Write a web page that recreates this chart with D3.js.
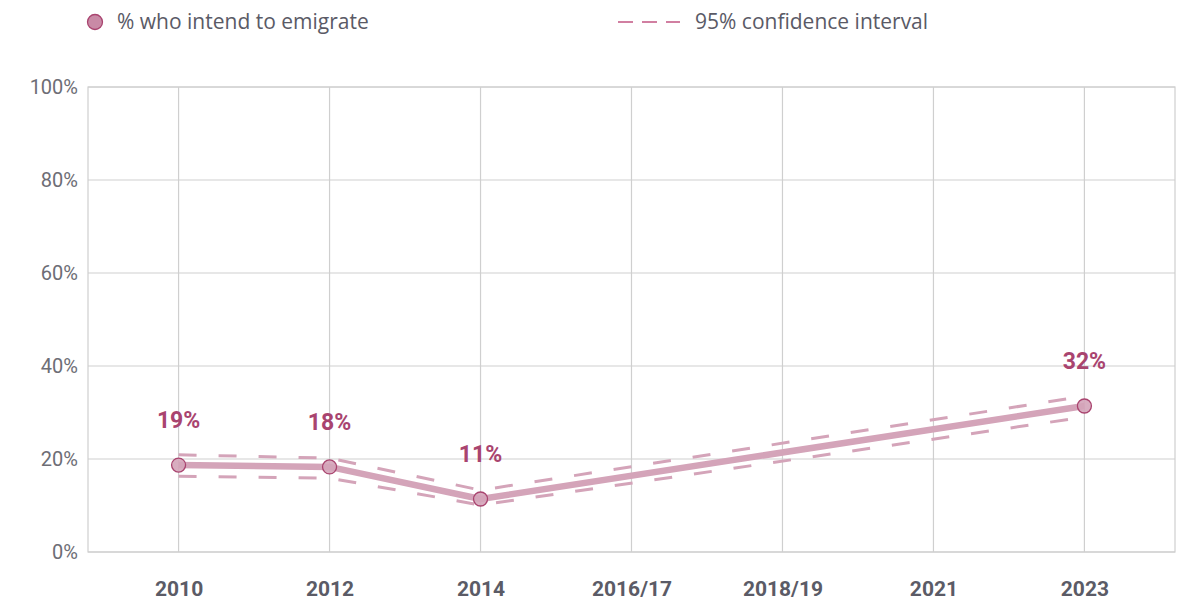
<!DOCTYPE html>
<html>
<head>
<meta charset="utf-8">
<script src="https://cdn.jsdelivr.net/npm/d3@7"></script>
<style>
  body { margin: 0; background: #fff; }
  svg { display: block; }
</style>
</head>
<body>
<div class="canvas"></div>
<script>
// data
const years = ['2010', '2012', '2014', '2016/17', '2018/19', '2021', '2023'];
const pointYears = ['2010', '2012', '2014', '2023'];
const intend = [18.7, 18.3, 11.4, 31.4];
const ciUpper = [20.9, 20.2, 13.3, 33.5];
const ciLower = [16.3, 15.9, 10.1, 29.0];
const labels = ['19%', '18%', '11%', '32%'];
const yTicks = [0, 20, 40, 60, 80, 100];

const dims = { width: 1199, height: 605, left: 88, right: 1175, top: 87, bottom: 552 };

const lineColor = '#d4a4b9';
const darkColor = '#a9446f';
const gridColor = '#cfcfcf';

const svg = d3.select('.canvas')
  .append('svg')
  .attr('width', dims.width)
  .attr('height', dims.height);

// scales
const x = d3.scalePoint().domain(years).range([dims.left, dims.right]).padding(0.6);
const y = d3.scaleLinear().domain([0, 100]).range([dims.bottom, dims.top]);

// grid
const grid = svg.append('g');
grid.selectAll('line.h')
  .data(yTicks)
  .join('line')
  .attr('x1', dims.left).attr('x2', dims.right)
  .attr('y1', d => y(d)).attr('y2', d => y(d))
  .attr('stroke', gridColor).attr('stroke-width', 1.2);
grid.selectAll('line.v')
  .data(years)
  .join('line')
  .attr('x1', d => x(d)).attr('x2', d => x(d))
  .attr('y1', dims.top).attr('y2', dims.bottom)
  .attr('stroke', gridColor).attr('stroke-width', 1.2);
grid.append('rect')
  .attr('x', dims.left).attr('y', dims.top)
  .attr('width', dims.right - dims.left).attr('height', dims.bottom - dims.top)
  .attr('fill', 'none').attr('stroke', gridColor).attr('stroke-width', 1.2);

// axes
const yAxis = d3.axisLeft(y).tickValues(yTicks).tickFormat(d => d + '%').tickSize(0).tickPadding(10);
const yAxisGroup = svg.append('g').attr('transform', `translate(${dims.left},0)`).call(yAxis);
yAxisGroup.select('path.domain').remove();
yAxisGroup.selectAll('text')
  .attr('font-family', 'Roboto').attr('font-size', 20).attr('fill', '#6d6d75');

const xAxis = d3.axisBottom(x).tickSize(0).tickPadding(29);
const xAxisGroup = svg.append('g').attr('transform', `translate(0,${dims.bottom})`).call(xAxis);
xAxisGroup.select('path.domain').remove();
xAxisGroup.selectAll('text')
  .attr('font-family', 'Roboto').attr('font-size', 21).attr('font-weight', 'bold').attr('fill', '#5b5b66');

// series
const pts = pointYears.map((k, i) => ({ key: k, v: intend[i], up: ciUpper[i], lo: ciLower[i], label: labels[i] }));

svg.append('path')
  .datum(pts)
  .attr('d', d3.line().x(d => x(d.key)).y(d => y(d.up)))
  .attr('fill', 'none').attr('stroke', lineColor).attr('stroke-width', 3)
  .attr('stroke-dasharray', '18,22');
svg.append('path')
  .datum(pts)
  .attr('d', d3.line().x(d => x(d.key)).y(d => y(d.lo)))
  .attr('fill', 'none').attr('stroke', lineColor).attr('stroke-width', 3)
  .attr('stroke-dasharray', '18,22');

svg.append('path')
  .datum(pts)
  .attr('d', d3.line().x(d => x(d.key)).y(d => y(d.v)))
  .attr('fill', 'none').attr('stroke', lineColor).attr('stroke-width', 6.5)
  .attr('stroke-linejoin', 'round');

svg.selectAll('circle.pt')
  .data(pts)
  .join('circle')
  .attr('cx', d => x(d.key)).attr('cy', d => y(d.v)).attr('r', 7)
  .attr('fill', lineColor).attr('fill-opacity', 0.9)
  .attr('stroke', darkColor).attr('stroke-width', 1.3);

svg.selectAll('text.lbl')
  .data(pts)
  .join('text')
  .attr('x', d => x(d.key)).attr('y', d => y(d.v) - 45)
  .attr('dy', '0.35em')
  .attr('text-anchor', 'middle')
  .attr('font-family', 'Roboto').attr('font-size', 23).attr('font-weight', 'bold')
  .attr('fill', darkColor)
  .text(d => d.label);

// legend
const legend = svg.append('g');
legend.append('circle')
  .attr('cx', 95).attr('cy', 22).attr('r', 7.5)
  .attr('fill', '#c98aa6').attr('stroke', darkColor).attr('stroke-width', 1.3);
legend.append('text')
  .attr('x', 117).attr('y', 22).attr('dy', '0.35em')
  .attr('font-family', 'Open Sans').attr('font-size', 21).attr('fill', '#5a5a66')
  .text('% who intend to emigrate');
legend.append('line')
  .attr('x1', 618).attr('x2', 680).attr('y1', 22).attr('y2', 22)
  .attr('stroke', '#c25583').attr('stroke-width', 1.5)
  .attr('stroke-dasharray', '15,9');
legend.append('text')
  .attr('x', 695).attr('y', 22).attr('dy', '0.35em')
  .attr('font-family', 'Open Sans').attr('font-size', 21).attr('fill', '#5a5a66')
  .text('95% confidence interval');
</script>
</body>
</html>
